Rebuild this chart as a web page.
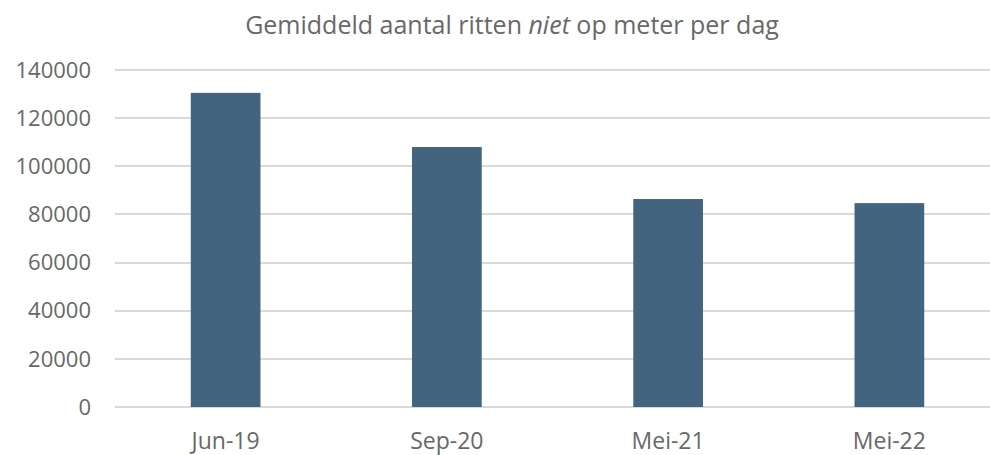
<!DOCTYPE html>
<meta charset="utf-8" />
<script src="https://d3js.org/d3.v7.js"></script>
<style>
  body { margin: 0; background: #fff; }
  text { font-family: "Open Sans", "Noto Sans", sans-serif; fill: #686868; }
</style>
<div id="my_dataviz"></div>
<script>
  // data
  const categories = ["Jun-19", "Sep-20", "Mei-21", "Mei-22"];
  const values = [130500, 108000, 86400, 84700];
  const yTicks = [0, 20000, 40000, 60000, 80000, 100000, 120000, 140000];

  const width = 990,
    height = 455;
  const margin = { top: 70, right: -10, bottom: 48, left: 115 };

  const svg = d3
    .select("#my_dataviz")
    .append("svg")
    .attr("width", width)
    .attr("height", height);

  const x = d3
    .scaleBand()
    .domain(categories)
    .range([margin.left, width - margin.right])
    .paddingInner(0.685)
    .paddingOuter(0.3425);

  const y = d3
    .scaleLinear()
    .domain([0, 140000])
    .range([height - margin.bottom, margin.top]);

  // gridlines
  svg
    .append("g")
    .selectAll("line")
    .data(yTicks)
    .join("line")
    .attr("x1", margin.left)
    .attr("x2", width)
    .attr("y1", (d) => Math.round(y(d)))
    .attr("y2", (d) => Math.round(y(d)))
    .attr("stroke", "#d9d9d9")
    .attr("stroke-width", 2);

  // y tick labels
  svg
    .append("g")
    .selectAll("text")
    .data(yTicks)
    .join("text")
    .attr("x", 91)
    .attr("y", (d) => y(d))
    .attr("dy", "0.35em")
    .attr("text-anchor", "end")
    .style("font-size", "22px")
    .text((d) => d);

  // bars
  svg
    .append("g")
    .selectAll("rect")
    .data(values)
    .join("rect")
    .attr("x", (d, i) => x(categories[i]))
    .attr("width", x.bandwidth())
    .attr("y", (d) => y(d))
    .attr("height", (d) => y(0) - y(d))
    .attr("fill", "#43647f");

  // x labels (the reference crops their descenders at the bottom edge too)
  svg
    .append("g")
    .selectAll("text")
    .data(categories)
    .join("text")
    .attr("x", (d) => x(d) + x.bandwidth() / 2)
    .attr("y", 449)
    .attr("text-anchor", "middle")
    .style("font-size", "23px")
    .text((d) => d);

  // title
  const title = svg
    .append("text")
    .attr("x", 512)
    .attr("y", 34)
    .attr("text-anchor", "middle")
    .style("font-size", "25px");
  title.append("tspan").text("Gemiddeld aantal ritten ");
  title.append("tspan").style("font-style", "italic").text("niet");
  title.append("tspan").text(" op meter per dag");
</script>
